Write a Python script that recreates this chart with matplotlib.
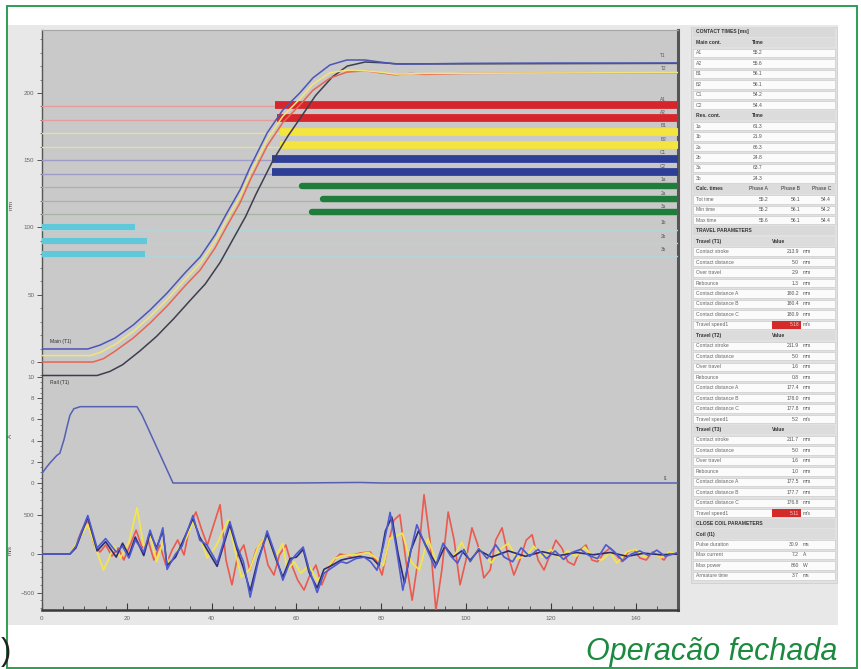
import numpy as np
import matplotlib
matplotlib.use("Agg")
import matplotlib.pyplot as plt
from matplotlib.patches import Rectangle

plt.rcParams['font.family'] = ['Liberation Sans', 'DejaVu Sans']

# ---------------- data ----------------
time_ticks = [0, 20, 40, 60, 80, 100, 120, 140]
travel_ticks = [0, 50, 100, 150, 200]
coil_ticks = [0, 2, 4, 6, 8, 10]
motion_ticks = [-500, 0, 500]

# travel curves (ms, mm)
t1_time = [0, 10.8, 13.7, 17.2, 21.5, 25.5, 29.5, 33.7, 37.3, 40.8, 43.6, 46.7, 49.1, 53.1,
           56.8, 60.8, 63.9, 67.9, 71.9, 76.2, 79.7, 83.3, 89.2, 100, 120, 140, 150]
t1_val = [9.7, 9.7, 12.6, 17.8, 27.5, 38.7, 51.3, 66.2, 78.1, 94.4, 110.8, 127.9, 145, 170.3,
          187.4, 200, 211.2, 220.8, 224.5, 224.5, 223, 221.6, 221.6, 222, 222.2, 222.2, 222.3]
t2_time = [0, 12, 14.5, 17.2, 21.5, 25.5, 29.5, 33.7, 37.3, 40.8, 43.6, 46.7, 49.1, 53.1,
           56.8, 60.8, 63.9, 67.9, 71.9, 76.2, 79.7, 83.3, 87, 90, 100, 120, 150]
t2_val = [0, 0, 2.5, 8, 17.8, 29, 41.6, 56.5, 68.4, 84.7, 101, 118.2, 135.3, 160.6,
          178, 191, 202, 211, 215.5, 216.5, 215, 213.5, 214.5, 213.8, 214.5, 214.8, 215]
t3_time = [0, 11.5, 14, 17.2, 21.5, 25.5, 29.5, 33.7, 37.3, 40.8, 43.6, 46.7, 49.1, 53.1,
           56.8, 60.8, 63.9, 67.9, 71.9, 76.2, 79.7, 83.3, 90, 150]
t3_val = [4.8, 4.8, 7.5, 13, 22.7, 33.9, 46.5, 61.4, 73.3, 89.6, 106, 123, 140, 165.5,
          182.7, 195.5, 206.6, 215, 217, 216.5, 215.5, 214, 214.5, 215.2]
t4_time = [0, 13, 16, 19, 23, 27, 31, 35, 38.5, 42, 45, 48, 50.5, 54.5, 58, 61.5, 64.5,
           68.5, 72, 76.2, 80, 84, 150]
t4_val = [-10, -10, -7, -2, 8, 19, 32, 46, 58, 74, 91, 108, 125, 150, 168, 184, 198,
          212, 220, 223, 222.5, 221.6, 222]

# contact channels
main_labels = ["A1", "A2", "B1", "B2", "C1", "C2"]
main_levels = [190, 180, 170, 160, 150, 140]
main_times = [55.0, 55.4, 56.1, 56.1, 54.2, 54.2]
res_close_labels = ["1a", "2a", "3a"]
res_close_levels = [130, 120, 110]
res_close_times = [61.3, 66.3, 63.7]
res_open_labels = ["1b", "2b", "3b"]
res_open_levels = [100, 90, 80]
res_open_times = [21.9, 24.8, 24.3]

# coil current (ms, A)
coil_time = [0, 0.9, 1.9, 3.5, 4.2, 5.2, 5.9, 6.6, 7.5, 9.0, 22.4, 23.6, 30.9, 60, 75, 80, 150]
coil_val = [0.9, 1.4, 1.9, 2.6, 2.8, 4.1, 5.3, 6.4, 7.0, 7.2, 7.2, 6.4, 0, 0, 0.05, 0, 0]

# motion signals (ms, value)
red_time = [0, 6.6, 8, 9.4, 10.8, 12.3, 13.7, 15, 16.5, 18, 19.3, 20.8, 22.2, 23.6, 25, 26.4,
            27.8, 29.2, 30.7, 32, 33.5, 34.9, 36.3, 37.7, 39, 40.5, 42, 43.4, 44.8, 46.2, 47.6,
            49, 50.5, 52, 53.3, 54.7, 56, 57.5, 58.9, 60.3, 61.8, 63.2, 64.6, 66, 67.4, 68.9,
            70.3, 72.6, 75, 77.4, 78.8, 80.2, 81.6, 83, 84.4, 85.8, 87.3, 88.7, 90.1, 91.5,
            92.9, 94.3, 95.8, 97.2, 98.6, 100, 101.4, 102.8, 104.2, 105.7, 107, 108.5, 109.9,
            111.3, 112.7, 114.2, 115.6, 117, 118.4, 119.8, 121.2, 122.6, 124, 125.5, 126.9,
            128.3, 129.7, 131, 132.5, 134, 135.4, 136.8, 138.2, 139.6, 141, 142.5, 144, 145.3,
            146.7, 148, 150]
red_val = [0, 0, 117, 310, 440, 117, 26, 117, -26, 78, -78, 117, 310, 78, 182, -78,
           117, -143, 52, 182, -13, 380, 545, 310, 117, 380, 640, -78, -400, -13, 117,
           -208, 52, 182, -143, -273, -13, 117, -143, -338, -468, -273, -143, -400, -208, -78,
           0, -26, 13, 26, -78, -273, 117, 440, 510, -78, -600, -78, 770, 180,
           -730, -208, 545, 180, -400, -78, 340, 117, -310, -208, 180, 340, -13,
           -273, -78, 180, 250, -78, -208, -13, 180, 78, -100, -143, 52,
           117, -78, -100, 13, 78, -13, -100, 26, 52, -52, -78, 26, -26,
           -78, 26, -13]
blue_time = [0, 6.6, 8, 10.8, 13, 15, 17.5, 19, 20.5, 22, 24, 25.5, 27, 28.5, 29.5, 31.5, 33,
             35.6, 37.2, 38.9, 41.3, 44.3, 46, 47.5, 49.1, 51, 53.1, 55, 56.8, 58.5, 60, 61.6,
             63, 64.9, 66.5, 68.6, 70.5, 71.9, 74, 76, 77.5, 79, 80.5, 82.1, 83.5, 85.1, 86.8,
             88.4, 90.5, 92.7, 94.6, 96.3, 98, 99.5, 101, 103, 105, 107, 109, 111, 113, 115,
             117, 119, 121, 123, 125, 127, 129, 131, 133, 135, 137, 139, 141, 143, 145, 147, 150]
blue_val = [0, 0, 100, 500, 78, 200, 26, 100, -52, 180, 26, 310, 52, 340, -200, 0, 100,
            500, 180, 117, -117, 420, 100, -100, -560, -100, 300, 0, -340, -100, 0, 90,
            -200, -500, -250, -170, -100, -120, -60, -40, -100, -210, 100, 540, 100, -470, 0,
            380, 100, -180, 140, -20, -120, 60, -100, 70, -60, 120, -40, -100, 80, -30,
            60, -60, 40, -70, 20, 60, -20, -60, 120, 30, -90, 0, 40, -20, 50, -30, 20]
yellow_time = [0, 6.6, 8, 10.8, 12.5, 14.5, 15.3, 17, 18.5, 20.5, 22.4, 24, 25.5, 27, 28.5, 30,
               32, 34, 35.6, 37, 39, 41, 43.9, 45.5, 47, 49, 51, 53, 55, 56.8, 57.8, 59.5, 61,
               63, 65, 67, 69, 71, 74, 77, 79, 80.5, 82, 85, 87, 89, 91, 93, 95, 97, 99, 101,
               103, 106, 108, 110, 112, 114, 116, 118, 120, 122, 124, 126, 128, 130, 132, 134,
               135.6, 138, 140, 142, 144, 146, 148, 150]
yellow_val = [0, 0, 130, 380, 100, -208, -117, 100, -50, 150, 600, 100, 250, -100, 150, -150,
              50, 200, 420, 250, -50, 100, 440, 50, -300, -200, 100, 250, -50, 140, -208, -100,
              -250, -150, -350, -200, -60, -20, -10, 20, -60, -150, 200, 270, -100, -208, 200,
              -100, 100, -50, 150, -100, 80, -117, 60, 140, -60, -30, 100, -40, 60, -50, 40,
              -30, 90, -40, -80, 20, -117, 30, 60, -40, 10, -50, 30, 0]
navy_time = [0, 6.6, 8, 10.8, 13, 15, 17.5, 19, 20.5, 22, 24, 25.5, 27, 28.5, 29.5, 31.5, 33,
             35.6, 37.2, 38.9, 41.3, 44.3, 46, 47.5, 49.1, 51, 53.1, 55, 56.8, 58.5, 60, 61.6,
             63, 64.9, 66.5, 68.6, 70.5, 72, 75, 78, 79.5, 81, 82.5, 84, 85.5, 87, 88.8, 91,
             93, 95, 97, 99, 101, 103, 106, 110, 114, 118, 122, 126, 130, 134, 138, 142, 146, 150]
navy_val = [0, 0, 80, 480, 40, 160, -40, 140, -20, 220, -20, 280, 80, 300, -150, -40, 140,
            460, 220, 60, -160, 380, 60, -180, -480, -60, 260, -40, -300, -60, -40, 60,
            -240, -440, -200, -140, -80, -60, -30, -60, -150, 300, 480, 0, -380, 50, 300, 60,
            -140, 100, -40, 40, -80, 50, -40, 40, -30, 30, -20, 20, -10, 20, -30, 10, -10, 0]

# right-hand parameter tables
main_table_times = ["55.2", "55.6", "56.1", "56.1", "54.2", "54.4"]
res_table_labels = ["1a", "1b", "2a", "2b", "3a", "3b"]
res_table_times = ["61.3", "21.9", "66.3", "24.8", "63.7", "24.3"]
calc_rows = ["Tot time", "Min time", "Max time"]
calc_phase_a = ["55.2", "55.2", "55.6"]
calc_phase_b = ["56.1", "56.1", "56.1"]
calc_phase_c = ["54.4", "54.2", "54.4"]
travel_rows = ["Contact stroke", "Contact distance", "Over travel", "Rebounce",
               "Contact distance A", "Contact distance B", "Contact distance C", "Travel speed1"]
travel_units = ["mm", "mm", "mm", "mm", "mm", "mm", "mm", "m/s"]
travel_t1 = ["213.9", "5.0", "2.9", "1.3", "180.2", "180.4", "180.9", "5.18"]
travel_t2 = ["211.9", "5.0", "1.6", "0.8", "177.4", "178.0", "177.8", "5.2"]
travel_t3 = ["211.7", "5.0", "1.6", "1.0", "177.5", "177.7", "176.8", "5.11"]
coil_rows = ["Pulse duration", "Max current", "Max power", "Armature time"]
coil_values = ["30.9", "7.2", "860", "3.7"]
coil_units = ["ms", "A", "W", "ms"]

# ---------------- figure ----------------
W, H = 862, 669
fig = plt.figure(figsize=(W / 100, H / 100), dpi=100, facecolor='white')


def fr(x0, y0, x1, y1):
    return [x0 / W, 1 - y1 / H, (x1 - x0) / W, (y1 - y0) / H]


base = fig.add_axes([0, 0, 1, 1], zorder=0)
base.set_xlim(0, W)
base.set_ylim(H, 0)
base.axis('off')
# screenshot background
base.add_patch(Rectangle((8, 25), 830, 600, facecolor='#e8e8e8', edgecolor='none'))
base.add_patch(Rectangle((691, 27), 146, 556, facecolor='#e1e1e1', edgecolor='#cfcfcf', lw=0.6))
# outer green frame
base.add_patch(Rectangle((7.5, 6), 849.5, 661.5, facecolor='none', edgecolor='#2f9e52', lw=1.4))

# axis unit labels
base.text(11, 205, 'mm', rotation=90, fontsize=4.5, color='#555', ha='center', va='center')
base.text(10, 436, 'A', rotation=90, fontsize=4.5, color='#555', ha='center', va='center')
base.text(10, 550, 'm/s', rotation=90, fontsize=4.5, color='#555', ha='center', va='center')

# ---- tables ----
row_h = 10.46
y0 = 32
fs = 3.6
tx0, tx1 = 693, 835
rows = []
rows.append(('title', 'CONTACT TIMES [ms]', None))
rows.append(('head', 'Main cont.', 'Time'))
for lab, v in zip(main_labels, main_table_times):
    rows.append(('simple', lab, v))
rows.append(('head', 'Res. cont.', 'Time'))
for lab, v in zip(res_table_labels, res_table_times):
    rows.append(('simple', lab, v))
rows.append(('calchead', 'Calc. times', None))
for lab, a, b, c in zip(calc_rows, calc_phase_a, calc_phase_b, calc_phase_c):
    rows.append(('calc', lab, (a, b, c)))
rows.append(('title', 'TRAVEL PARAMETERS', None))
for name, vals in [('Travel (T1)', travel_t1), ('Travel (T2)', travel_t2), ('Travel (T3)', travel_t3)]:
    rows.append(('head2', name, 'Value'))
    for i, (lab, v, u) in enumerate(zip(travel_rows, vals, travel_units)):
        red = (i == len(travel_rows) - 1) and name != 'Travel (T2)'
        rows.append(('param', lab, (v, u, red)))
rows.append(('title', 'CLOSE COIL PARAMETERS', None))
rows.append(('head2', 'Coil (I1)', None))
for lab, v, u in zip(coil_rows, coil_values, coil_units):
    rows.append(('param', lab, (v, u, False)))

for i, (kind, lab, val) in enumerate(rows):
    yc = y0 + i * row_h
    if kind == 'title':
        base.add_patch(Rectangle((tx0, yc - 4.6), tx1 - tx0, 9.2, facecolor='#d9d9d9', edgecolor='none'))
        base.text(tx0 + 3, yc, lab, fontsize=fs, fontweight='bold', color='#333', va='center')
    elif kind in ('head', 'head2', 'calchead'):
        base.add_patch(Rectangle((tx0, yc - 4.6), tx1 - tx0, 9.2, facecolor='#dcdcdc', edgecolor='none'))
        base.text(tx0 + 3, yc, lab, fontsize=fs, fontweight='bold', color='#333', va='center')
        if kind == 'head' and val:
            base.text(752, yc, val, fontsize=fs, fontweight='bold', color='#333', va='center')
        if kind == 'head2' and val:
            base.text(772, yc, val, fontsize=fs, fontweight='bold', color='#333', va='center')
        if kind == 'calchead':
            for xx, ph in zip([768, 800, 831], ['Phase A', 'Phase B', 'Phase C']):
                base.text(xx, yc, ph, fontsize=fs, color='#333', va='center', ha='right')
    else:
        base.add_patch(Rectangle((tx0, yc - 4.2), tx1 - tx0, 8.4, facecolor='#fbfbfb',
                                 edgecolor='#c4c4c4', lw=0.4))
        base.text(tx0 + 3, yc, lab, fontsize=fs, color='#666', va='center')
        if kind == 'simple':
            base.text(753, yc, val, fontsize=fs, color='#555', va='center')
        elif kind == 'calc':
            for xx, v in zip([768, 800, 831], val):
                base.text(xx, yc, v, fontsize=fs, color='#555', va='center', ha='right')
        elif kind == 'param':
            v, u, red = val
            if red:
                base.add_patch(Rectangle((772, yc - 4.2), 29, 8.4, facecolor='#d52a2a', edgecolor='none'))
                base.text(799, yc, v, fontsize=fs, color='#f5d0d0', va='center', ha='right')
            else:
                base.text(799, yc, v, fontsize=fs, color='#555', va='center', ha='right')
            base.text(803, yc, u, fontsize=fs, color='#555', va='center')

# ---- plot background / x axis ----
ax_bg = fig.add_axes(fr(42, 30, 678, 610), zorder=1)
ax_bg.set_facecolor('#c9c9c9')
ax_bg.set_xlim(0, 150)
ax_bg.set_ylim(0, 1)
ax_bg.set_yticks([])
ax_bg.set_xticks(time_ticks)
ax_bg.set_xticks(np.arange(0, 151, 5), minor=True)
ax_bg.tick_params(axis='x', which='major', direction='in', length=5, width=0.8, color='#3a3a3a',
                  labelsize=4.5, labelcolor='#666', pad=4)
ax_bg.tick_params(axis='x', which='minor', direction='in', length=3, width=0.6, color='#3a3a3a')
ax_bg.spines['bottom'].set_linewidth(1.8)
ax_bg.spines['bottom'].set_color('#3a3a3a')
ax_bg.spines['right'].set_linewidth(2.2)
ax_bg.spines['right'].set_color('#555555')
ax_bg.spines['top'].set_linewidth(0.8)
ax_bg.spines['top'].set_color('#a5a5a5')
ax_bg.spines['left'].set_linewidth(1.0)
ax_bg.spines['left'].set_color('#555555')


def panel(rect, ylim, ticks, minor_step, z):
    ax = fig.add_axes(rect, zorder=z)
    ax.set_facecolor('none')
    ax.set_xlim(0, 150)
    ax.set_ylim(*ylim)
    for s in ax.spines.values():
        s.set_visible(False)
    ax.set_xticks([])
    ax.set_yticks(ticks)
    lo = np.ceil(ylim[0] / minor_step) * minor_step
    ax.set_yticks(np.arange(lo, ylim[1], minor_step), minor=True)
    ax.tick_params(axis='y', which='major', direction='out', length=3.5, width=0.7, color='#555',
                   labelsize=4.5, labelcolor='#666', pad=2)
    ax.tick_params(axis='y', which='minor', direction='out', length=1.8, width=0.5, color='#555')
    return ax


ax1 = panel(fr(42, 30, 678, 381), (-14.1, 246.8), travel_ticks, 10, 3)
ax2 = panel(fr(42, 377, 678, 492), (-0.85, 10.0), coil_ticks, 0.5, 2)
ax3 = panel(fr(42, 492, 678, 610), (-727, 805), motion_ticks, 100, 2)

# contact channels
main_thin = ['#e49c9c', '#e49c9c', '#e4dea8', '#e4dea8', '#a09cc8', '#a09cc8']
main_thick = ['#d7262b', '#d7262b', '#f3e43e', '#f3e43e', '#2c3e95', '#2c3e95']
for lev, t, c1, c2, lab in zip(main_levels, main_times, main_thin, main_thick, main_labels):
    ax1.plot([0, 150], [lev, lev], color=c1, lw=1.0, zorder=2)
    ax1.plot([t, 150], [lev + 1.2, lev + 1.2], color=c2, lw=5.6, solid_capstyle='butt', zorder=3)
    ax1.text(146.5, lev + 5.5, lab, fontsize=3.4, color='#555', ha='center', va='center', zorder=6)
for lev, t, lab in zip(res_close_levels, res_close_times, res_close_labels):
    ax1.plot([0, 150], [lev, lev], color='#a6b6a2', lw=1.0, zorder=2)
    ax1.plot([t, 150], [lev + 1.2, lev + 1.2], color='#1f7d3c', lw=4.6, solid_capstyle='round', zorder=3)
    ax1.text(146.5, lev + 5.5, lab, fontsize=3.4, color='#555', ha='center', va='center', zorder=6)
for lev, t, lab in zip(res_open_levels, res_open_times, res_open_labels):
    ax1.plot([0, 150], [lev - 1.5, lev - 1.5], color='#b6d3d7', lw=1.0, zorder=2)
    ax1.plot([0, t], [lev, lev], color='#5fc8d9', lw=4.4, solid_capstyle='butt', zorder=3)
    ax1.text(146.5, lev + 3.5, lab, fontsize=3.4, color='#555', ha='center', va='center', zorder=6)

# travel curves
ax1.plot(t4_time, t4_val, color='#3e3e4e', lw=1.1, zorder=4)
ax1.plot(t2_time, t2_val, color='#e8644e', lw=1.1, zorder=4)
ax1.plot(t3_time, t3_val, color='#f2e47a', lw=1.1, zorder=4)
ax1.plot(t1_time, t1_val, color='#4b55b8', lw=1.1, zorder=5)
ax1.text(146.5, 227.5, 'T1', fontsize=3.4, color='#555', ha='center', va='center')
ax1.text(146.5, 218.5, 'T2', fontsize=3.4, color='#555', ha='center', va='center')
ax1.text(2.0, 15.5, 'Main (T1)', fontsize=3.6, color='#333', va='center')
ax1.text(2.0, -15.0, 'Rail (T1)', fontsize=3.6, color='#333', va='center')

# coil current
ax2.plot(coil_time, coil_val, color='#5560b4', lw=1.1)
ax2.text(147, 0.45, 'I1', fontsize=3.4, color='#555', ha='center', va='center')

# motion signals
ax3.plot(red_time, red_val, color='#ea5a4e', lw=1.2, zorder=2)
ax3.plot(yellow_time, yellow_val, color='#f3e54c', lw=1.3, zorder=3)
ax3.plot(navy_time, navy_val, color='#2c2c72', lw=1.2, zorder=4)
ax3.plot(blue_time, blue_val, color='#4d5ad0', lw=1.2, zorder=5)

# caption
fig.text(837 / W, 1 - 660 / H, 'Operacão fechada', fontsize=22, style='italic',
         color='#1b8a3e', ha='right', va='baseline')
fig.text(1 / W, 1 - 660 / H, ')', fontsize=22, color='#222', ha='left', va='baseline')

fig.savefig('out.png', dpi=100, facecolor='white')
